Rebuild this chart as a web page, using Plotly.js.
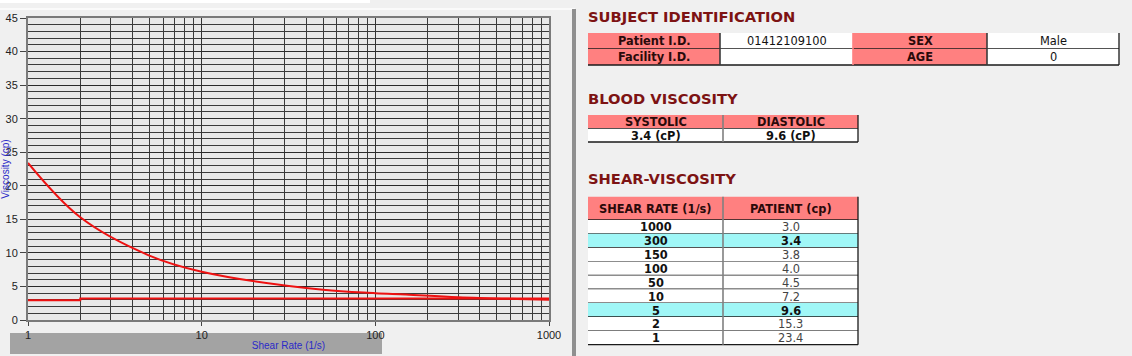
<!DOCTYPE html>
<html>
<head>
<meta charset="utf-8">
<script src="https://cdn.plot.ly/plotly-3.0.1.min.js"></script>
<style>
  html, body { margin: 0; padding: 0; background: #f0f0f0; }
  #chart { width: 1132px; height: 356px; }
</style>
</head>
<body>
<div id="chart"></div>
<script>
// ---- data ----
const shearRates = [1000, 300, 150, 100, 50, 10, 5, 2, 1];
const patientCp = [3.0, 3.4, 3.8, 4.0, 4.5, 7.2, 9.6, 15.3, 23.4];
const baselineRates = [1, 2, 2, 1000];
const baselineCp = [2.95, 2.95, 3.2, 3.2];
const highlightedRates = [300, 5];

const xTickVals = [1, 10, 100, 1000];
const xMinorVals = [2,3,4,5,6,7,8,9,20,30,40,50,60,70,80,90,200,300,400,500,600,700,800,900];

const subjectLabelsA = ['Patient I.D.', 'Facility I.D.'];
const subjectValuesA = ['01412109100', ''];
const subjectLabelsB = ['SEX', 'AGE'];
const subjectValuesB = ['Male', '0'];

const bloodHeaders = ['SYSTOLIC', 'DIASTOLIC'];
const bloodValues = ['3.4 (cP)', '9.6 (cP)'];

const shearHeaders = ['SHEAR RATE (1/s)', 'PATIENT (cp)'];

const sectionTitles = ['SUBJECT IDENTIFICATION', 'BLOOD VISCOSITY', 'SHEAR-VISCOSITY'];
const axisTitles = {x: 'Shear Rate (1/s)', y: 'Viscosity (cp)'};

// ---- helpers ----
const W = 1132, H = 356;
const px = v => v / W;
const py = v => 1 - v / H;

const PINK = '#ff8080', CYAN = '#a0f7f7', WHITE = '#ffffff';
const TITLE_RED = '#7d1313';
const FONT = 'DejaVu Sans, Verdana, sans-serif';
const AXFONT = 'Liberation Sans, Arial, sans-serif';
const CELL_SIZE = 11.4;

const shapes = [
  // x-axis title strip
  {type: 'rect', xref: 'paper', yref: 'paper', x0: px(10), x1: px(382), y0: py(354), y1: py(333),
   fillcolor: '#a3a3a3', line: {width: 0}, layer: 'below'},
  // top white strip
  {type: 'rect', xref: 'paper', yref: 'paper', x0: 0, x1: px(370), y0: py(3), y1: py(0),
   fillcolor: '#ffffff', line: {width: 0}, layer: 'below'},
  {type: 'rect', xref: 'paper', yref: 'paper', x0: 0, x1: px(575), y0: py(10), y1: py(8),
   fillcolor: '#fafafa', line: {width: 0}, layer: 'below'},
  // right frame of chart panel
  {type: 'rect', xref: 'paper', yref: 'paper', x0: px(572), x1: px(576), y0: py(356), y1: py(9),
   fillcolor: '#8f8f8f', line: {width: 0}, layer: 'below'}
];
const annotations = [];

sectionTitles.forEach((t, i) => {
  annotations.push({
    text: '<b>' + t + '</b>', xref: 'paper', yref: 'paper',
    x: px(586), y: py([17, 98, 178][i]), xanchor: 'left', yanchor: 'middle',
    showarrow: false, font: {family: FONT, size: 14.7, color: TITLE_RED}
  });
});

function addTable(spec) {
  const {xEdges, yTop, rowHeights, rows, fills, colors, sepColors} = spec;
  let y = yTop;
  rows.forEach((row, r) => {
    const y0 = y, y1 = y + rowHeights[r];
    row.forEach((txt, c) => {
      shapes.push({type: 'rect', xref: 'paper', yref: 'paper',
        x0: px(xEdges[c]), x1: px(xEdges[c + 1]), y0: py(y1), y1: py(y0),
        fillcolor: fills[r][c], line: {width: 0}});
      if (txt !== '') {
        annotations.push({text: txt, xref: 'paper', yref: 'paper',
          x: px((xEdges[c] + xEdges[c + 1]) / 2), y: py((y0 + y1) / 2 + 0.5),
          xanchor: 'center', yanchor: 'middle', showarrow: false,
          font: {family: FONT, size: CELL_SIZE, color: colors[r][c]}});
      }
    });
    shapes.push({type: 'line', xref: 'paper', yref: 'paper',
      x0: px(xEdges[0]), x1: px(xEdges[xEdges.length - 1]), y0: py(y1), y1: py(y1),
      line: {color: '#1a1a1a', width: 1.3}});
    y = y1;
  });
  for (let c = 1; c < xEdges.length; c++) {
    shapes.push({type: 'line', xref: 'paper', yref: 'paper',
      x0: px(xEdges[c]), x1: px(xEdges[c]), y0: py(y), y1: py(yTop),
      line: {color: sepColors[c - 1], width: c === xEdges.length - 1 ? 1.3 : 1.6}});
  }
}

// Subject identification
addTable({
  xEdges: [588, 720, 853, 987, 1119],
  yTop: 33, rowHeights: [15.7, 16.3],
  rows: subjectLabelsA.map((l, i) => ['<b>' + l + '</b>', subjectValuesA[i], '<b>' + subjectLabelsB[i] + '</b>', subjectValuesB[i]]),
  fills: subjectLabelsA.map(() => [PINK, WHITE, PINK, WHITE]),
  colors: subjectLabelsA.map(() => ['#2a0a0a', '#111', '#2a0a0a', '#111']),
  sepColors: ['#3a3a3a', '#ff8080', '#3a3a3a', '#1a1a1a']
});

// Blood viscosity
addTable({
  xEdges: [588, 723, 858],
  yTop: 115, rowHeights: [13.7, 13.3],
  rows: [bloodHeaders.map(h => '<b>' + h + '</b>'), bloodValues.map(v => '<b>' + v + '</b>')],
  fills: [[PINK, PINK], [WHITE, WHITE]],
  colors: [['#2a0a0a', '#2a0a0a'], ['#111', '#111']],
  sepColors: ['#808080', '#1a1a1a']
});

// Shear-viscosity
const isHi = shearRates.map(r => highlightedRates.includes(r));
addTable({
  xEdges: [588, 723, 858],
  yTop: 196.7, rowHeights: [23.3].concat(shearRates.map(() => 13.85)),
  rows: [shearHeaders.map(h => '<b>' + h + '</b>')].concat(
    shearRates.map((r, i) => ['<b>' + r + '</b>', isHi[i] ? '<b>' + patientCp[i].toFixed(1) + '</b>' : patientCp[i].toFixed(1)])),
  fills: [[PINK, PINK]].concat(isHi.map(h => h ? [CYAN, CYAN] : [WHITE, WHITE])),
  colors: [['#2a0a0a', '#2a0a0a']].concat(isHi.map(h => ['#111', h ? '#111' : '#444'])),
  sepColors: ['#808080', '#1a1a1a']
});

// curve (ascending shear rate)
const order = shearRates.map((r, i) => i).sort((a, b) => shearRates[a] - shearRates[b]);
const curveX = order.map(i => shearRates[i]);
const curveY = order.map(i => patientCp[i]);

const traces = [
  {type: 'scatter', mode: 'lines', x: baselineRates, y: baselineCp,
   line: {color: '#ee1111', width: 2}, hoverinfo: 'skip', showlegend: false},
  {type: 'scatter', mode: 'lines', x: curveX, y: curveY,
   line: {color: '#ee1111', width: 2, shape: 'spline', smoothing: 1}, showlegend: false}
];

const layout = {
  width: W, height: H,
  margin: {l: 0, r: 0, t: 0, b: 0},
  paper_bgcolor: '#f0f0f0',
  plot_bgcolor: '#e8e8e8',
  showlegend: false,
  xaxis: {
    type: 'log', range: [0, 3], domain: [px(28), px(549)],
    tickmode: 'array', tickvals: xTickVals, ticktext: xTickVals.map(String),
    ticks: 'outside', ticklen: 4, tickcolor: '#444',
    showgrid: true, gridcolor: '#333', gridwidth: 1,
    minor: {tickmode: 'array', tickvals: xMinorVals, showgrid: true, gridcolor: '#3a3a3a', gridwidth: 1, ticks: ''},
    showline: true, mirror: true, linecolor: '#7a7a7a', linewidth: 2,
    tickfont: {family: AXFONT, size: 11, color: '#222'},
    title: {text: axisTitles.x, font: {family: AXFONT, size: 10, color: '#2a2ac8'}, standoff: 2},
    zeroline: false, fixedrange: true
  },
  yaxis: {
    range: [0, 45], domain: [py(320), py(18)],
    tickmode: 'linear', tick0: 0, dtick: 5,
    ticks: 'outside', ticklen: 6, tickcolor: '#444',
    showgrid: true, gridcolor: '#2a2a2a', gridwidth: 1,
    minor: {dtick: 1, showgrid: true, gridcolor: '#3a3a3a', gridwidth: 1, ticks: ''},
    showline: true, mirror: true, linecolor: '#7a7a7a', linewidth: 2,
    tickfont: {family: AXFONT, size: 11, color: '#222'},
    title: {text: axisTitles.y, font: {family: AXFONT, size: 10, color: '#2a2ac8'}, standoff: 0},
    zeroline: false, fixedrange: true
  },
  shapes: shapes,
  annotations: annotations
};

Plotly.newPlot('chart', traces, layout, {displayModeBar: false, staticPlot: true});
</script>
</body>
</html>
